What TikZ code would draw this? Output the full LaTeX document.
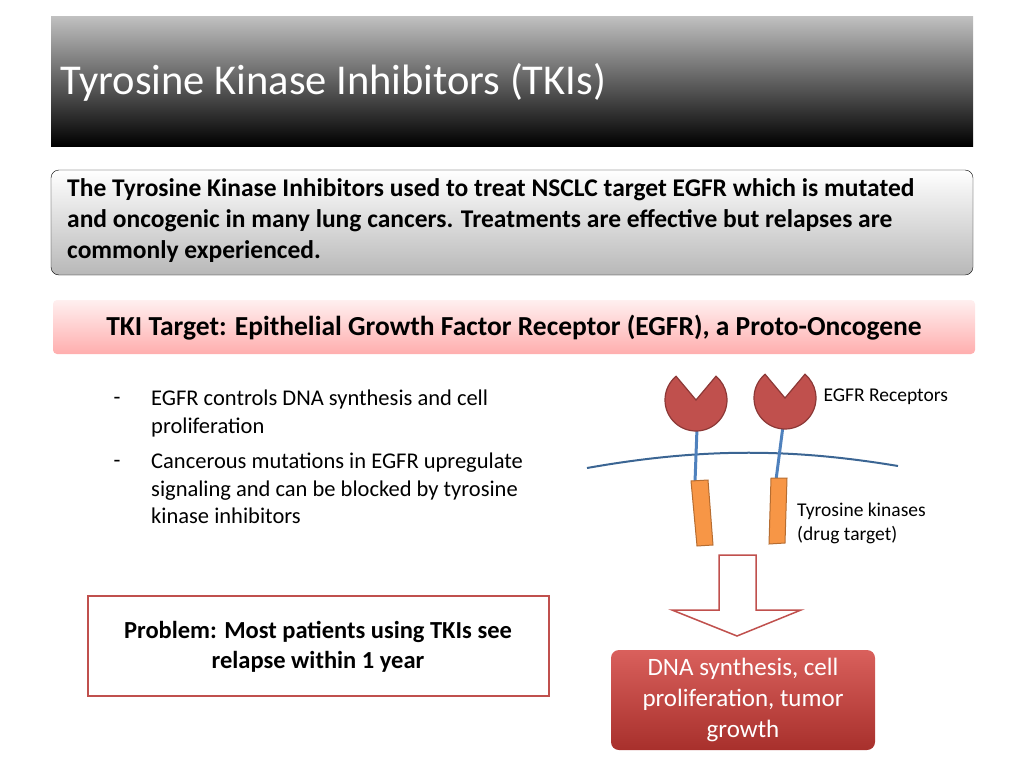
\documentclass[tikz,border=0pt]{standalone}
\usepackage{fontspec}
\setmainfont{Carlito}
\usetikzlibrary{positioning}
\definecolor{recfill}{HTML}{C0504D}
\definecolor{recdraw}{HTML}{8C3836}
\definecolor{tkfill}{HTML}{F79646}
\definecolor{tkdraw}{HTML}{B66D31}
\definecolor{stem}{HTML}{4F81BD}
\definecolor{memb}{HTML}{3B6593}
\definecolor{probred}{HTML}{C0504D}
\definecolor{outtop}{HTML}{D9605C}
\definecolor{outbot}{HTML}{A8302C}
\tikzset{
  bodytext/.style={font=\fontsize{22.5}{27.5}\selectfont,anchor=north west,inner sep=0pt,align=left},
  dashmark/.style={font=\fontsize{22.5}{27.5}\selectfont,inner sep=0pt},
  recep/.style={fill=recfill,draw=recdraw,line width=1.2pt},
  kinase/.style={fill=tkfill,draw=tkdraw,line width=1pt},
}
\begin{document}
\begin{tikzpicture}[x=1pt,y=-1pt]
  \useasboundingbox (0,0) rectangle (1024,768);
  % title bar
  \shade[top color=black!25,bottom color=black] (51,17) rectangle (973,146);
  \node[anchor=west,text=white,font=\fontsize{42.5}{46}\selectfont] (title) at (57,82) {Tyrosine Kinase Inhibitors (TKIs)};
  % summary box
  \shade[top color=white,bottom color=black!28,rounded corners=8pt] (51,170) rectangle (973,275);
  \draw[rounded corners=8pt,black] (51,170) rectangle (973,275);
  \node[font=\bfseries\fontsize{25.5}{31}\selectfont,anchor=north west,inner sep=0pt,align=left] (summary) at (67,178)
    {The Tyrosine Kinase Inhibitors used to treat NSCLC target EGFR which is mutated\\
     and oncogenic in many lung cancers. Treatments are effective but relapses are\\
     commonly experienced.};
  % target bar
  \shade[top color=red!6,bottom color=red!32,rounded corners=4pt] (53,300) rectangle (975,354);
  \node[font=\bfseries\fontsize{27.5}{30}\selectfont] (target) at (514,328)
    {TKI Target: Epithelial Growth Factor Receptor (EGFR), a Proto-Oncogene};
  % bullets
  \node[dashmark] (d1) at (117,401) {-};
  \node[bodytext] (b1) at (151,390) {EGFR controls DNA synthesis and cell\\proliferation};
  \node[dashmark] (d2) at (117,464) {-};
  \node[bodytext] (b2) at (151,453) {Cancerous mutations in EGFR upregulate\\signaling and can be blocked by tyrosine\\kinase inhibitors};
  % problem box
  \draw[probred,line width=1.5pt] (88,596) rectangle (549,696);
  \node[align=center,font=\bfseries\fontsize{24.5}{30}\selectfont] (problem) at (318,647)
    {Problem: Most patients using TKIs see\\relapse within 1 year};
  % receptors
  \draw[memb,line width=2pt] (587,468) .. controls (700,448) and (790,448) .. (898,466);
  \draw[stem,line width=3pt] (697,428) -- (695,482);
  \draw[stem,line width=3pt] (783,426) -- (776,480);
  \draw[recep] (696,400) -- ++(230:31) arc[start angle=230,end angle=-50,radius=31] -- cycle;
  \draw[recep] (785,398) -- ++(230:31) arc[start angle=230,end angle=-50,radius=31] -- cycle;
  \draw[kinase] (691,481) -- (708,480) -- (713,545) -- (697,546) -- cycle;
  \draw[kinase] (771,478) -- (787,478) -- (785,543) -- (769,544) -- cycle;
  \node[anchor=west,font=\fontsize{19.5}{22}\selectfont] (egfr) at (820,397) {EGFR Receptors};
  \node[anchor=north west,align=left,inner sep=0pt,font=\fontsize{19.5}{24}\selectfont] (tk) at (797,503) {Tyrosine kinases\\(drug target)};
  % arrow
  \draw[fill=white,draw=probred,line width=1.5pt] (719,555) -- (756,555) -- (756,610) -- (801,610)
    -- (737,636) -- (672,610) -- (719,610) -- cycle;
  % outcome box
  \shade[top color=outtop,bottom color=outbot,rounded corners=8pt] (611,650) rectangle (875,750);
  \node[align=center,text=white,font=\fontsize{25}{31}\selectfont] (outcome) at (743,700)
    {DNA synthesis, cell\\proliferation, tumor\\growth};
\end{tikzpicture}
\end{document}
